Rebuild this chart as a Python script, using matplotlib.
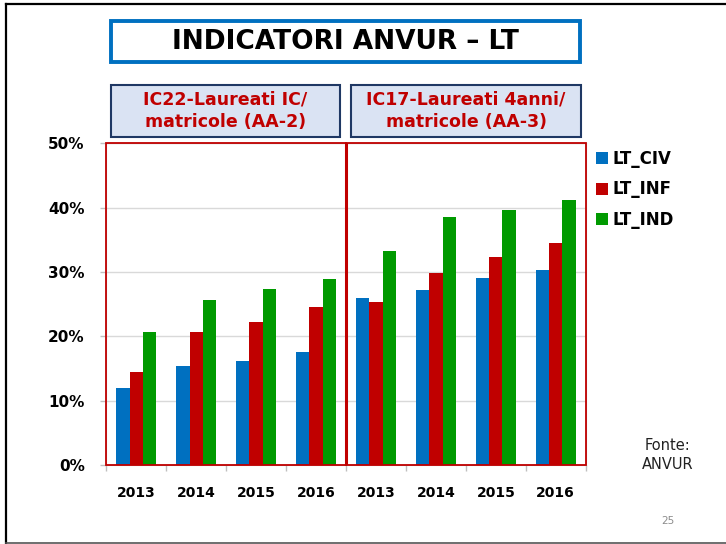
import matplotlib
matplotlib.use("Agg")
import matplotlib.pyplot as plt
from matplotlib.patches import Rectangle
from matplotlib.lines import Line2D
from matplotlib.ticker import FuncFormatter, FixedLocator
import numpy as np

# ---------------- data ----------------
years = ["2013", "2014", "2015", "2016", "2013", "2014", "2015", "2016"]
series_names = ["LT_CIV", "LT_INF", "LT_IND"]
lt_civ = [11.9, 15.4, 16.1, 17.5, 25.9, 27.2, 29.0, 30.3]
lt_inf = [14.5, 20.7, 22.2, 24.5, 25.4, 29.8, 32.3, 34.5]
lt_ind = [20.6, 25.6, 27.4, 28.9, 33.2, 38.5, 39.6, 41.2]
series_colors = ["#0070C0", "#C00000", "#009A00"]
title = "INDICATORI ANVUR – LT"
group_titles = ["IC22-Laureati IC/\nmatricole (AA-2)", "IC17-Laureati 4anni/\nmatricole (AA-3)"]
y_ticks = [0, 10, 20, 30, 40, 50]

W, H = 726, 544
fig = plt.figure(figsize=(W / 100, H / 100), dpi=100)
plt.rcParams["font.family"] = ["DejaVu Sans"]


def fx(x):
    return x / W


def fy(y):
    return 1 - y / H


# axes placement (pixels)
L, R, T, B = 106.3, 585.7, 143.3, 465.0
ax = fig.add_axes([fx(L), fy(B), fx(R) - fx(L), fy(T) - fy(B)])

x = np.arange(len(years))
bw = 0.222
all_series = [lt_civ, lt_inf, lt_ind]
handles = []
for i, (vals, c, name) in enumerate(zip(all_series, series_colors, series_names)):
    h = ax.bar(x + (i - 1) * bw, vals, width=bw, color=c, label=name, zorder=3)
    handles.append(h)

ax.set_xlim(-0.5, len(years) - 0.5)
ax.set_ylim(0, 50)
ax.yaxis.set_major_locator(FixedLocator(y_ticks))
ax.yaxis.set_major_formatter(FuncFormatter(lambda v, p: f"{v:.0f}%"))
ax.set_xticks(x)
ax.set_xticklabels(years)
ax.set_xticks(np.arange(-0.5, len(years)), minor=True)
ax.tick_params(axis="x", which="major", length=0, pad=15, labelsize=10)
ax.tick_params(axis="x", which="minor", length=4, color="#BFBFBF", width=1)
ax.tick_params(axis="y", length=4.5, color="#BFBFBF", width=1, pad=11, labelsize=11)
for lab in ax.get_xticklabels() + ax.get_yticklabels():
    lab.set_fontweight("bold")
ax.grid(axis="y", color="#D9D9D9", lw=1, zorder=0)
for s in ax.spines.values():
    s.set_color("#BFBFBF")

# red frames for the two groups
ax.add_patch(Rectangle((-0.5, 0), 4, 50, fill=False, ec="#C00000", lw=1.3, zorder=4, clip_on=False))
ax.add_patch(Rectangle((3.5, 0), 4, 50, fill=False, ec="#C00000", lw=1.3, zorder=4, clip_on=False))
ax.axvline(3.5, color="#C00000", lw=2.2, zorder=5)

# legend
leg = fig.legend(handles=handles, labels=series_names, loc="upper left",
                 bbox_to_anchor=(fx(596), fy(150)), frameon=False,
                 handlelength=0.7, handleheight=0.7, handletextpad=0.3,
                 labelspacing=0.75, borderaxespad=0, borderpad=0,
                 prop={"weight": "bold", "size": 12})

# title box
fig.patches.append(Rectangle((fx(111), fy(62)), fx(580) - fx(111), fy(21) - fy(62),
                             transform=fig.transFigure, fill=True, fc="white",
                             ec="#0070C0", lw=2.8))
fig.text(fx(345.5), fy(42), title, ha="center", va="center",
         fontsize=19, fontweight="bold", color="black")

# group subtitle boxes
boxes = [(111, 340), (351, 581)]
for (x0, x1), txt in zip(boxes, group_titles):
    fig.patches.append(Rectangle((fx(x0), fy(137)), fx(x1) - fx(x0), fy(85) - fy(137),
                                 transform=fig.transFigure, fc="#DAE3F3",
                                 ec="#1F3864", lw=1.5))
    fig.text(fx((x0 + x1) / 2), fy(111), txt, ha="center", va="center",
             fontsize=12.5, fontweight="bold", color="#C00000", linespacing=1.35)

# source note and page number
fig.text(fx(668), fy(455), "Fonte:\nANVUR", ha="center", va="center",
         fontsize=10.5, color="#222222", linespacing=1.3)
fig.text(fx(668), fy(521), "25", ha="center", va="center", fontsize=7.5, color="#8C8C8C")

# slide frame
fig.lines.append(Line2D([fx(6), fx(6)], [fy(3.5), fy(543)], transform=fig.transFigure,
                        color="black", lw=1.6))
fig.lines.append(Line2D([fx(6), fx(726)], [fy(3.5), fy(3.5)], transform=fig.transFigure,
                        color="black", lw=1.6))
fig.lines.append(Line2D([fx(6), fx(726)], [fy(543), fy(543)], transform=fig.transFigure,
                        color="#555555", lw=1.2))

fig.savefig("out.png", dpi=100)
